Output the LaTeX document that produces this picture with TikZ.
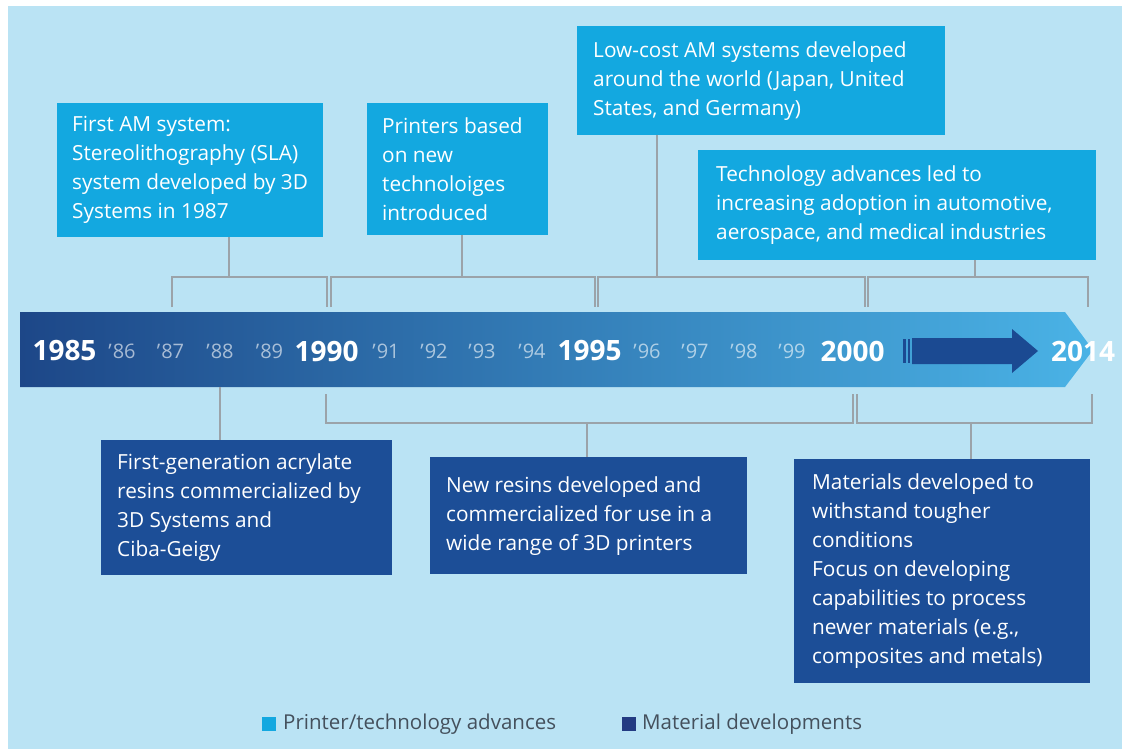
\documentclass[tikz,border=0pt]{standalone}
\usepackage{fontspec}
\setmainfont{Open Sans}
\definecolor{bgc}{HTML}{BAE3F4}
\definecolor{topc}{HTML}{13A8E0}
\definecolor{botc}{HTML}{1C4E97}
\definecolor{linec}{HTML}{9BA3A9}
\definecolor{barA}{HTML}{1D4788}
\definecolor{barB}{HTML}{2A78B7}
\definecolor{barC}{HTML}{4AB3E6}
\definecolor{arrc}{HTML}{1B4A92}
\definecolor{legdark}{HTML}{233B82}
\definecolor{legtext}{HTML}{44505C}
\begin{document}
\begin{tikzpicture}[x=1pt,y=-1pt,
  box/.style={rectangle, inner sep=0pt, anchor=north west},
  tbox/.style={box, fill=topc},
  bbox/.style={box, fill=botc},
  txt/.style={anchor=west, align=left, text=white, inner sep=0pt, font=\fontsize{20.8}{29}\selectfont},
  conn/.style={draw=linec, line width=2.2pt},
  bigyr/.style={text=white, inner sep=0pt, font=\bfseries\fontsize{28}{28}\selectfont},
  smallyr/.style={text=white, text opacity=0.6, inner sep=0pt, font=\fontsize{20}{20}\selectfont},
  legtxt/.style={anchor=west, inner sep=0pt, text=legtext, font=\fontsize{20.5}{21}\selectfont}]
\useasboundingbox (0,0) rectangle (1122,749);
\fill[bgc] (8,6) rectangle (1122,749);
% timeline bar
\shade[left color=barA, middle color=barB, right color=barC]
  (20,312) -- (1065,312) -- (1093,350) -- (1065,387) -- (20,387) -- cycle;
% inner arrow
\fill[arrc] (903,339) rectangle (906,363);
\fill[arrc] (908,339) rectangle (910,363);
\fill[arrc] (912,338) -- (1012,338) -- (1012,329) -- (1038,351) -- (1012,373) -- (1012,364) -- (912,364) -- cycle;
% years
\node[bigyr] (y85) at (64.5,351) {1985};
\node[smallyr] (y86) at (122,351) {’\kern1pt86};
\node[smallyr] (y87) at (170.5,351) {’\kern1pt87};
\node[smallyr] (y88) at (220,351) {’\kern1pt88};
\node[smallyr] (y89) at (269.5,351) {’\kern1pt89};
\node[bigyr] (y90) at (326.5,351) {1990};
\node[smallyr] (y91) at (386,351) {’\kern1pt91};
\node[smallyr] (y92) at (434,351) {’\kern1pt92};
\node[smallyr] (y93) at (482,351) {’\kern1pt93};
\node[smallyr] (y94) at (532,351) {’\kern1pt94};
\node[bigyr] (y95) at (589.5,351) {1995};
\node[smallyr] (y96) at (647,351) {’\kern1pt96};
\node[smallyr] (y97) at (695,351) {’\kern1pt97};
\node[smallyr] (y98) at (744,351) {’\kern1pt98};
\node[smallyr] (y99) at (792,351) {’\kern1pt99};
\node[bigyr] (y00) at (852.5,351) {2000};
\node[bigyr] (y14) at (1083,351) {2014};
% top boxes
\node[tbox, minimum width=266pt, minimum height=134pt] (b1) at (57,103) {};
\node[txt] (t1) at ([xshift=15pt]b1.west) {First AM system:\\Stereolithography (SLA)\\system developed by 3D\\Systems in 1987};
\node[tbox, minimum width=181pt, minimum height=132pt] (b2) at (367,103) {};
\node[txt] (t2) at ([xshift=15pt]b2.west) {Printers based\\on new\\technoloiges\\introduced};
\node[tbox, minimum width=368pt, minimum height=109pt] (b3) at (577,26) {};
\node[txt] (t3) at ([xshift=16pt]b3.west) {Low-cost AM systems developed\\around the world (Japan, United\\States, and Germany)};
\node[tbox, minimum width=398pt, minimum height=110pt] (b4) at (698,150) {};
\node[txt] (t4) at ([xshift=18pt]b4.west) {Technology advances led to\\increasing adoption in automotive,\\aerospace, and medical industries};
% bottom boxes
\node[bbox, minimum width=291pt, minimum height=135pt] (b5) at (101,440) {};
\node[txt] (t5) at ([xshift=16pt]b5.west) {First-generation acrylate\\resins commercialized by\\3D Systems and\\Ciba-Geigy};
\node[bbox, minimum width=317pt, minimum height=117pt] (b6) at (430,457) {};
\node[txt] (t6) at ([xshift=16pt]b6.west) {New resins developed and\\commercialized for use in a\\wide range of 3D printers};
\node[bbox, minimum width=296pt, minimum height=224pt] (b7) at (794,459) {};
\node[txt] (t7) at ([xshift=18pt]b7.west) {Materials developed to\\withstand tougher\\conditions\\Focus on developing\\capabilities to process\\newer materials (e.g.,\\composites and metals)};
% top brackets
\coordinate (s1) at (229,277); \coordinate (s1l) at (172,307); \coordinate (s1r) at (327,307);
\coordinate (s2) at (462,277); \coordinate (s2l) at (331,307); \coordinate (s2r) at (595,307);
\coordinate (s3) at (657,277); \coordinate (s3l) at (598,307); \coordinate (s3r) at (865,307);
\coordinate (s4) at (975,277); \coordinate (s4l) at (868,307); \coordinate (s4r) at (1088,307);
\draw[conn] (b1.south -| s1) -- (s1);
\draw[conn] (s1l) |- (s1) -| (s1r);
\draw[conn] (b2.south -| s2) -- (s2);
\draw[conn] (s2l) |- (s2) -| (s2r);
\draw[conn] (b3.south -| s3) -- (s3);
\draw[conn] (s3l) |- (s3) -| (s3r);
\draw[conn] (b4.south -| s4) -- (s4);
\draw[conn] (s4l) |- (s4) -| (s4r);
% bottom brackets
\coordinate (u1) at (220,387);
\draw[conn] (u1) -- (b5.north -| u1);
\coordinate (u2) at (587,423); \coordinate (u2l) at (326,394); \coordinate (u2r) at (853,394);
\coordinate (u3) at (971,423); \coordinate (u3l) at (857,394); \coordinate (u3r) at (1092,394);
\draw[conn] (u2l) |- (u2) -| (u2r);
\draw[conn] (u2) -- (b6.north -| u2);
\draw[conn] (u3l) |- (u3) -| (u3r);
\draw[conn] (u3) -- (b7.north -| u3);
% legend
\node[fill=topc, minimum size=14pt, inner sep=0pt] (l1) at (268.5,724) {};
\node[legtxt] (l1t) at (283,724) {Printer/technology advances};
\node[fill=legdark, minimum size=14pt, inner sep=0pt] (l2) at (628.5,724) {};
\node[legtxt] (l2t) at (642,724) {Material developments};
\end{tikzpicture}
\end{document}
